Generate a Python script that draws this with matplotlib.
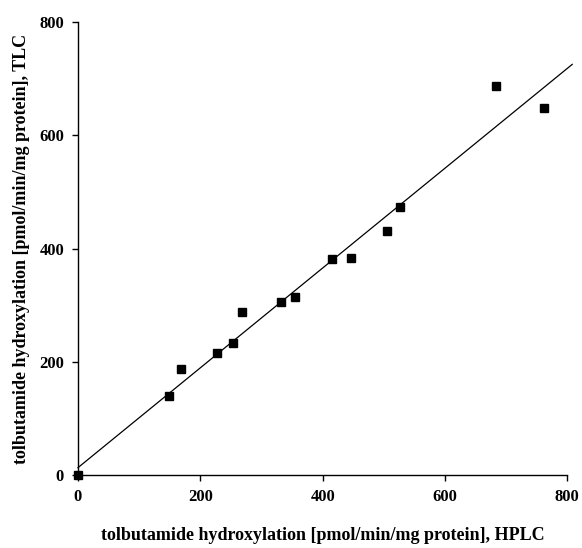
"""Tolbutamide hydroxylation: TLC vs HPLC comparison scatter with regression line."""

import matplotlib
matplotlib.use("Agg")
import matplotlib.pyplot as plt
import numpy as np

# measured activities, pmol/min/mg protein
hplc = [0, 148, 168, 228, 254, 268, 332, 355, 415, 446, 506, 526, 684, 762]
tlc = [0, 140, 187, 216, 233, 288, 306, 315, 381, 384, 432, 474, 688, 649]

# regression line as drawn in the figure
fit_slope = 0.882
fit_intercept = 13.0
fit_x = [0, 808]

xticks = [0, 200, 400, 600, 800]
yticks = [0, 200, 400, 600, 800]

plt.rcParams["font.family"] = ["Liberation Serif", "DejaVu Serif"]
plt.rcParams["font.weight"] = "bold"

fig = plt.figure(figsize=(5.82, 5.48), dpi=100)
ax = fig.add_axes([0.134, 0.1332, 0.8408, 0.8261])

fx = np.array(fit_x)
ax.plot(fx, fit_slope * fx + fit_intercept, color="black", lw=0.9, clip_on=False)
ax.plot(hplc, tlc, ls="none", marker="s", ms=6, color="black", clip_on=False, zorder=3)

ax.set_xlim(0, 800)
ax.set_ylim(0, 800)
ax.set_xticks(xticks)
ax.set_yticks(yticks)
ax.spines[["top", "right"]].set_visible(False)
for s in ("left", "bottom"):
    ax.spines[s].set_linewidth(1.0)
ax.tick_params(direction="out", length=4, width=1.0, labelsize=12, pad=6)
for lab in ax.get_xticklabels() + ax.get_yticklabels():
    lab.set_fontweight("bold")

ax.set_xlabel("tolbutamide hydroxylation [pmol/min/mg protein], HPLC",
              fontsize=13, fontweight="bold", labelpad=16)
ax.set_ylabel("tolbutamide hydroxylation [pmol/min/mg protein], TLC",
              fontsize=13, fontweight="bold", labelpad=7)

fig.savefig("out.png", dpi=100)
